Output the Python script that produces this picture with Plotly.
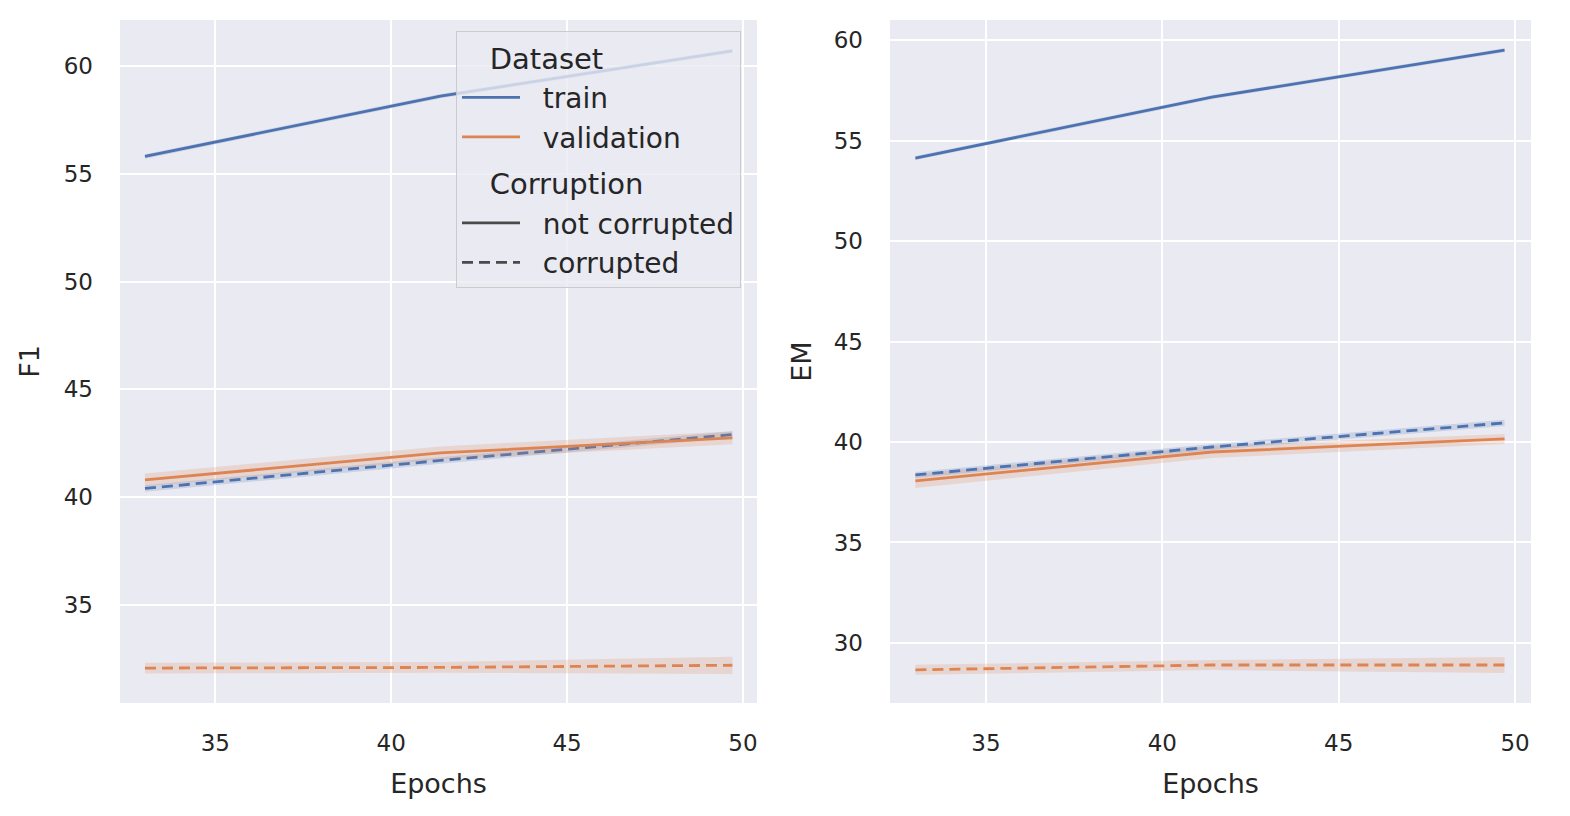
import plotly.graph_objects as go

# ---- data ----
epochs = [33.0, 41.4, 49.7]

f1_train_clean = [55.8, 58.6, 60.7]
f1_val_clean = [40.8, 42.05, 42.75]
f1_train_corr = [40.4, 41.7, 42.9]
f1_val_corr = [32.07, 32.1, 32.2]

f1_train_clean_err = [0.1, 0.1, 0.1]
f1_val_clean_err = [0.3, 0.3, 0.3]
f1_train_corr_err = [0.15, 0.15, 0.15]
f1_val_corr_err = [0.25, 0.25, 0.4]

em_train_clean = [54.13, 57.16, 59.5]
em_val_clean = [38.06, 39.5, 40.15]
em_train_corr = [38.36, 39.75, 40.95]
em_val_corr = [28.66, 28.9, 28.9]

em_train_clean_err = [0.1, 0.1, 0.1]
em_val_clean_err = [0.35, 0.3, 0.25]
em_train_corr_err = [0.15, 0.15, 0.15]
em_val_corr_err = [0.25, 0.25, 0.4]

dataset_labels = ["train", "validation"]
corruption_labels = ["not corrupted", "corrupted"]

f1_ticks = [35, 40, 45, 50, 55, 60]
em_ticks = [30, 35, 40, 45, 50, 55, 60]
x_ticks = [35, 40, 45, 50]

# ---- styles ----
BLUE = "#4c72b0"
ORANGE = "#dd8452"
BLUE_BAND = "rgba(76,114,176,0.2)"
ORANGE_BAND = "rgba(221,132,82,0.2)"
GRAY = "#4a4a4a"
DASH = "11px,6px"
FONT = "DejaVu Sans"
TXT = "#262626"
ITEM_PAD = "\u00a0\u00a0"
TITLE_PAD = "\u00a0\u00a0\u00a0"

W, H = 1562, 808   # page body has an 8px margin
OX, OY = 8, 8


def px_x(p):
    return (p - OX) / W


def px_y(p):
    return 1 - (p - OY) / H


fig = go.Figure()


def add_series(xref, yref, y, err, color, band, dash):
    upper = [v + e for v, e in zip(y, err)]
    lower = [v - e for v, e in zip(y, err)]
    fig.add_trace(go.Scatter(x=epochs, y=upper, mode="lines", line=dict(width=0),
                             xaxis=xref, yaxis=yref, showlegend=False, hoverinfo="skip"))
    fig.add_trace(go.Scatter(x=epochs, y=lower, mode="lines", line=dict(width=0),
                             fill="tonexty", fillcolor=band,
                             xaxis=xref, yaxis=yref, showlegend=False, hoverinfo="skip"))
    fig.add_trace(go.Scatter(x=epochs, y=y, mode="lines",
                             line=dict(color=color, width=2.8, dash=dash),
                             xaxis=xref, yaxis=yref, showlegend=False))


# left panel (F1)
add_series("x", "y", f1_val_corr, f1_val_corr_err, ORANGE, ORANGE_BAND, DASH)
add_series("x", "y", f1_train_corr, f1_train_corr_err, BLUE, BLUE_BAND, DASH)
add_series("x", "y", f1_val_clean, f1_val_clean_err, ORANGE, ORANGE_BAND, "solid")
add_series("x", "y", f1_train_clean, f1_train_clean_err, BLUE, BLUE_BAND, "solid")

# right panel (EM)
add_series("x2", "y2", em_val_corr, em_val_corr_err, ORANGE, ORANGE_BAND, DASH)
add_series("x2", "y2", em_val_clean, em_val_clean_err, ORANGE, ORANGE_BAND, "solid")
add_series("x2", "y2", em_train_corr, em_train_corr_err, BLUE, BLUE_BAND, DASH)
add_series("x2", "y2", em_train_clean, em_train_clean_err, BLUE, BLUE_BAND, "solid")

# legend entries
for lab, col in zip(dataset_labels, [BLUE, ORANGE]):
    fig.add_trace(go.Scatter(x=[None], y=[None], mode="lines", name=ITEM_PAD + lab,
                             line=dict(color=col, width=2.8),
                             legendgroup="Dataset",
                             legendgrouptitle=dict(text=TITLE_PAD + "Dataset",
                                                   font=dict(size=29, color=TXT))))
for lab, d in zip(corruption_labels, ["solid", DASH]):
    fig.add_trace(go.Scatter(x=[None], y=[None], mode="lines", name=ITEM_PAD + lab,
                             line=dict(color=GRAY, width=2.8, dash=d),
                             legendgroup="Corruption",
                             legendgrouptitle=dict(text=TITLE_PAD + "Corruption",
                                                   font=dict(size=29, color=TXT))))

axis_common = dict(
    showgrid=True, gridcolor="white", gridwidth=1.6, zeroline=False,
    showline=False, ticks="", tickfont=dict(family=FONT, size=23, color=TXT),
    title_font=dict(family=FONT, size=27, color=TXT),
)

fig.update_layout(
    width=W, height=H,
    margin=dict(l=0, r=0, t=0, b=0),
    paper_bgcolor="white",
    plot_bgcolor="#eaeaf2",
    font=dict(family=FONT, color=TXT),
    xaxis=dict(domain=[px_x(120), px_x(757)], range=[32.29, 50.40],
               tickvals=x_ticks, anchor="y", ticklabelstandoff=24,
               title=dict(text="Epochs", standoff=19), **axis_common),
    yaxis=dict(domain=[px_y(703), px_y(20)], range=[30.45, 62.13],
               tickvals=f1_ticks, anchor="x", ticklabelstandoff=26,
               title=dict(text="F1", standoff=16), **axis_common),
    xaxis2=dict(domain=[px_x(890), px_x(1531)], range=[32.28, 50.45],
                tickvals=x_ticks, anchor="y2", ticklabelstandoff=24,
                title=dict(text="Epochs", standoff=19), **axis_common),
    yaxis2=dict(domain=[px_y(703), px_y(20)], range=[27.01, 61.0],
                tickvals=em_ticks, anchor="x2", ticklabelstandoff=26,
                title=dict(text="EM", standoff=14), **axis_common),
    legend=dict(
        x=px_x(456), y=px_y(31), xanchor="left", yanchor="top",
        bgcolor="rgba(234,234,242,0.8)", bordercolor="rgba(200,200,200,0.9)",
        borderwidth=1, font=dict(family=FONT, size=28, color=TXT),
        traceorder="grouped", tracegroupgap=6, itemwidth=58,
    ),
)

fig.write_html("out.html")
